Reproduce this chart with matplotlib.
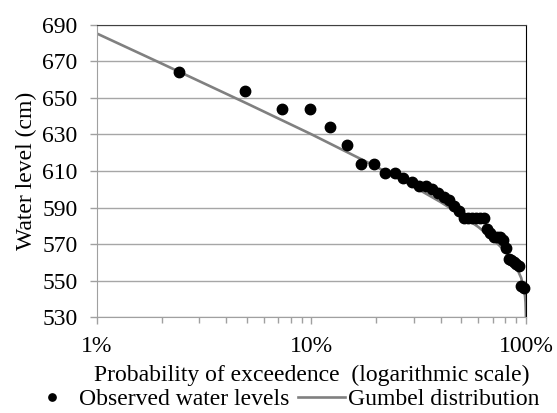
import matplotlib
matplotlib.use('Agg')
import matplotlib.pyplot as plt
from matplotlib.ticker import FixedLocator, NullFormatter

plt.rcParams['font.family'] = ['Liberation Serif', 'DejaVu Serif']
FS = 17

# observed annual water levels, ranked (exceedance probability in %)
obs_prob = [2.4, 4.9, 7.3, 9.8, 12.2, 14.6, 17.1, 19.5, 22.0, 24.4,
            26.8, 29.3, 31.7, 34.1, 36.6, 39.0, 41.5, 43.9, 46.3, 48.8,
            51.2, 53.7, 56.1, 58.5, 61.0, 63.4, 65.9, 68.3, 70.7, 73.2,
            75.6, 78.0, 80.5, 82.9, 85.4, 87.8, 90.2, 92.7, 95.1, 97.6]
obs_level = [664, 654, 644, 644, 634, 624, 614, 614, 609, 609,
             606, 604, 602, 602, 600, 598, 596, 594, 591, 588,
             584, 584, 584, 584, 584, 584, 578, 576, 574, 574,
             574, 572, 568, 562, 561, 560, 559, 558, 547, 546]

# fitted Gumbel curve
gum_prob = [1, 2, 5, 10, 20, 30, 40, 50, 60, 70, 80, 90, 95, 98, 99, 99.5, 99.9, 99.95]
gum_level = [685.3, 668.9, 647.0, 630.1, 612.4, 601.4, 593.0, 585.8, 579.3,
             572.8, 566.0, 557.6, 551.4, 545.2, 541.3, 538.0, 531.8, 529.6]

y_ticks = [530, 550, 570, 590, 610, 630, 650, 670, 690]
x_ticks = [1, 10, 100]
x_labels = ['1%', '10%', '100%']

fig = plt.figure(figsize=(5.57, 4.13), dpi=100)
ax = fig.add_axes([0.1741, 0.2324, 0.7702, 0.7071])

ax.set_xscale('log')
ax.set_xlim(1, 100)
ax.set_ylim(530, 690)

ax.grid(axis='y', color='#a6a6a6', lw=1.0, zorder=0)
ax.set_axisbelow(True)

ax.plot(gum_prob, gum_level, color='#808080', lw=1.9, zorder=2,
        label='Gumbel distribution')
ax.plot(obs_prob, obs_level, 'o', color='black', ms=7.5, zorder=3,
        label='Observed water levels', clip_on=False)

ax.set_yticks(y_ticks)
ax.xaxis.set_major_locator(FixedLocator(x_ticks))
ax.set_xticklabels(x_labels)
minors = [m * d for d in (1, 10) for m in range(2, 10)]
ax.xaxis.set_minor_locator(FixedLocator(minors))
ax.xaxis.set_minor_formatter(NullFormatter())

ax.tick_params(axis='both', which='major', labelsize=FS, color='#a0a0a0',
               length=5, width=1)
ax.tick_params(axis='y', which='major', pad=9)
ax.tick_params(axis='x', which='major', pad=9)
ax.tick_params(axis='x', which='minor', color='#a0a0a0', length=4, width=1)

for s in ('left', 'bottom'):
    ax.spines[s].set_color('#a0a0a0')
ax.spines['top'].set_color('#404040')
ax.spines['right'].set_color('black')

ax.set_ylabel('Water level (cm)', fontsize=FS, labelpad=4)
ax.set_xlabel('Probability of exceedence  (logarithmic scale)', fontsize=FS, labelpad=5)

h, l = ax.get_legend_handles_labels()
fig.legend(h[::-1], l[::-1], loc='lower center', bbox_to_anchor=(0.51, -0.045),
           ncol=2, frameon=False, fontsize=17, handlelength=2.0,
           handletextpad=0.15, columnspacing=0.35, markerscale=0.7)

fig.savefig('out.png', dpi=100)
